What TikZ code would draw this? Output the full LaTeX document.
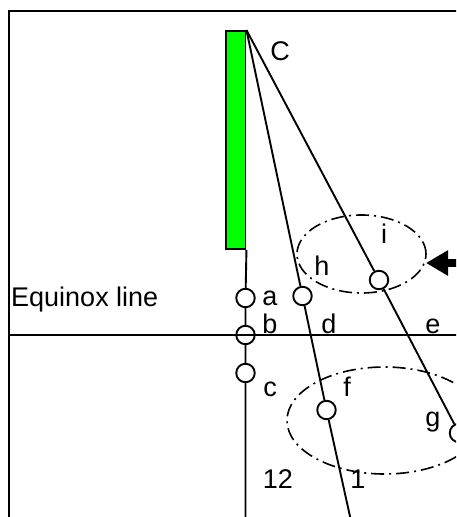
\documentclass[tikz,border=0pt]{standalone}
\usepackage{fontspec}
\setmainfont{Liberation Sans}
\usetikzlibrary{arrows.meta}
\definecolor{rodgreen}{RGB}{0,255,0}
\tikzset{
  pix/.style={x=1pt, y=-1pt},
  frame/.style={black, line width=2pt},
  ray/.style={black, line width=1.9pt},
  rod/.style={draw=black, line width=1.9pt, fill=rodgreen, minimum width=19.5pt, minimum height=218pt, inner sep=0pt},
  pin/.style={circle, draw=black, line width=1.9pt, fill=white, minimum size=18.5pt, inner sep=0pt},
  zone/.style={black, line width=1.6pt, dash pattern=on 13pt off 5pt on 2pt off 5pt},
  sunarrow/.style={black, line width=8pt, -{Triangle[length=22pt,width=24pt]}},
  lbl/.style={font=\fontsize{27}{31}\selectfont, inner sep=0pt, anchor=base},
}
\begin{document}
\begin{tikzpicture}[pix]
  \useasboundingbox (0,0) rectangle (456,517);
  \clip (0,0) rectangle (456,517);
  % frame
  \draw[frame] (9,530) -- (9,10.5) -- (470,10.5);
  % shadow zones
  \draw[zone] (361.5,254) ellipse [x radius=64.5pt, y radius=39pt];
  \draw[zone] (384.5,420.5) ellipse [x radius=97.5pt, y radius=53.5pt];
  % gnomon and shadow tips
  \node[rod] (rod) at (235.75,140) {};
  \coordinate (apex) at (rod.north east);
  \node[pin] (ca) at (245.5,298) {};
  \node[pin] (cb) at (245.5,335) {};
  \node[pin] (cc) at (245.5,373) {};
  \node[pin] (ch) at (302.5,296) {};
  \node[pin] (cf) at (326.5,410) {};
  \node[pin] (ci) at (379,280) {};
  \node[pin] (cg) at (459,433) {};
  \coordinate (vbot) at (245.5,530);
  \coordinate (rbot) at (353,530);
  \draw[ray] (rod.south east) -- (ca) -- (cb) -- (cc) -- (vbot);
  \draw[ray] (apex) -- (ch) -- (cf) -- (rbot);
  \draw[ray] (apex) -- (ci) -- (cg);
  % equinox line
  \draw[frame] (9,335) -- (470,335);
  % labels
  \node[lbl] (lC) at (280,60) {C};
  \node[lbl] (li) at (384,243) {i};
  \node[lbl] (lh) at (322,275) {h};
  \node[lbl] (la) at (270,305) {a};
  \node[lbl] (lb) at (270,333.5) {b};
  \node[lbl] (ld) at (329,333.5) {d};
  \node[lbl] (le) at (433,333.5) {e};
  \node[lbl] (lc) at (270,396.5) {c};
  \node[lbl] (lf) at (347,396.5) {f};
  \node[lbl] (lg) at (433,426) {g};
  \node[lbl] (l12) at (278,488) {12};
  \node[lbl] (l1) at (358,488) {1};
  \node[lbl, anchor=base west] (leq) at (11,306) {Equinox line};
  % sunlight
  \coordinate (atail) at (475,263);
  \coordinate (atip) at (426,263);
  \draw[sunarrow] (atail) -- (atip);
\end{tikzpicture}
\end{document}
